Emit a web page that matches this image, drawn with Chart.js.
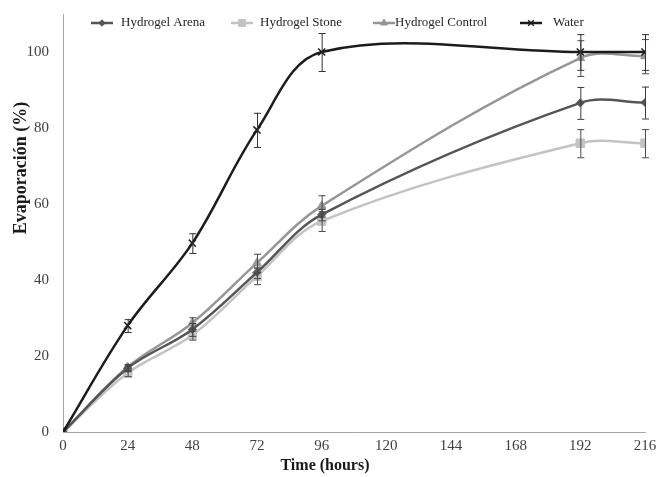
<!DOCTYPE html>
<html lang="es">
<head>
<meta charset="UTF-8">
<title>Evaporación</title>
<style>
    body { margin: 0; background: #fff; }
    #wrap { width: 659px; height: 477px; }
</style>
</head>
<body>
<div id="wrap"><canvas id="evapChart" width="659" height="477"></canvas></div>
<script src="https://cdn.jsdelivr.net/npm/chart.js"></script>
<script>
// datos
const hours = [0, 24, 48, 72, 96, 192, 216];
const seriesNames = ['Hydrogel Arena', 'Hydrogel Stone', 'Hydrogel Control', 'Water'];
const arena = [0, 16.8, 27, 42, 57.2, 86.6, 86.7];
const arenaErr = [0, 0.8, 1.7, 1.5, 1.5, 4.2, 4.2];
const stone = [0, 15.5, 25.5, 41, 55.5, 76, 76];
const stoneErr = [0, 0.8, 1.2, 2.1, 2.6, 3.7, 3.7];
const control = [0, 17.1, 28.7, 44.5, 59.5, 98.4, 98.9];
const controlErr = [0, 0.8, 1.5, 2.4, 2.8, 4.7, 4.5];
const water = [0, 28, 49.7, 79.5, 100, 100, 100];
const waterErr = [0, 1.7, 2.6, 4.5, 5, 4.7, 4.7];
const yTicks = [0, 20, 40, 60, 80, 100];

const serif = "'Liberation Serif', 'Times New Roman', serif";

function toPoints(vals) {
    return hours.map((h, i) => ({ x: h, y: vals[i] }));
}

// barras de error
const errorBars = {
    id: 'errorBars',
    afterDatasetsDraw(chart) {
        const ctx = chart.ctx;
        const xs = chart.scales.x, ys = chart.scales.y;
        ctx.save();
        chart.data.datasets.forEach(ds => {
            ds.errors.forEach((e, i) => {
                if (!e) return;
                const px = xs.getPixelForValue(hours[i]);
                const top = ys.getPixelForValue(ds.data[i].y + e);
                const bot = ys.getPixelForValue(ds.data[i].y - e);
                ctx.strokeStyle = ds.errColor;
                ctx.lineWidth = 1;
                ctx.beginPath();
                ctx.moveTo(px + 0.5, top); ctx.lineTo(px + 0.5, bot);
                ctx.moveTo(px - 3, top + 0.5); ctx.lineTo(px + 4, top + 0.5);
                ctx.moveTo(px - 3, bot + 0.5); ctx.lineTo(px + 4, bot + 0.5);
                ctx.stroke();
            });
        });
        ctx.restore();
    }
};

// leyenda y títulos de ejes
const extras = {
    id: 'extras',
    afterDraw(chart) {
        const ctx = chart.ctx;
        const lineX = [91, 231, 373, 520];
        const textX = [121, 260, 395, 553];
        const ly = 23;
        ctx.save();
        chart.data.datasets.forEach((ds, i) => {
            ctx.strokeStyle = ds.borderColor;
            ctx.fillStyle = ds.borderColor;
            ctx.lineWidth = 2.5;
            ctx.beginPath();
            ctx.moveTo(lineX[i], ly); ctx.lineTo(lineX[i] + 22, ly);
            ctx.stroke();
            ctx.lineWidth = ds.pointBorderWidth;
            Chart.helpers.drawPoint(ctx, {
                pointStyle: ds.pointStyle, radius: ds.pointRadius * 0.8, rotation: 0, borderWidth: ds.pointBorderWidth
            }, lineX[i] + 11, ly);
            ctx.fillStyle = '#262626';
            ctx.font = '13px ' + serif;
            ctx.textBaseline = 'middle';
            ctx.fillText(seriesNames[i], textX[i], ly);
        });
        ctx.fillStyle = '#1a1a1a';
        ctx.font = 'bold 16px ' + serif;
        ctx.textAlign = 'center';
        ctx.textBaseline = 'middle';
        ctx.fillText('Time (hours)', 325, 466);
        ctx.translate(21, 168);
        ctx.rotate(-Math.PI / 2);
        ctx.font = 'bold 18px ' + serif;
        ctx.fillText('Evaporación (%)', 0, 0);
        ctx.restore();
    }
};

function mkSet(i, vals, errs, color, style, radius, order, errColor) {
    return {
        label: seriesNames[i],
        data: toPoints(vals),
        errors: errs,
        errColor: errColor,
        borderColor: color,
        backgroundColor: color,
        pointBackgroundColor: color,
        pointBorderColor: color,
        pointStyle: style,
        pointRadius: radius,
        pointBorderWidth: style === 'crossRot' ? 1.5 : 1,
        borderWidth: 2.5,
        tension: 0.35,
        fill: false,
        order: order
    };
}

const ctx1 = document.getElementById('evapChart').getContext('2d');
const evapChart = new Chart(ctx1, {
    type: 'line',
    data: {
        datasets: [
            mkSet(0, arena, arenaErr, '#555555', 'rectRot', 4, 1, '#3d3d3d'),
            mkSet(1, stone, stoneErr, '#c3c3c3', 'rect', 6, 3, '#4a4a4a'),
            mkSet(2, control, controlErr, '#969696', 'triangle', 5, 2, '#4a4a4a'),
            mkSet(3, water, waterErr, '#1c1c1c', 'crossRot', 5, 0, '#333333')
        ]
    },
    options: {
        responsive: false,
        animation: false,
        layout: { padding: { top: 14, right: 14, left: 0, bottom: 0 } },
        plugins: {
            legend: { display: false },
            tooltip: { enabled: false }
        },
        scales: {
            x: {
                type: 'linear',
                min: 0,
                max: 216,
                grid: { display: false, drawTicks: false },
                border: { display: true, color: '#a6a6a6', width: 1 },
                ticks: {
                    stepSize: 24,
                    padding: 5,
                    color: '#404040',
                    font: { family: serif, size: 15 }
                },
                afterFit(scale) {
                    scale.height = 45;
                    scale.paddingLeft = 0;
                    scale.paddingRight = 0;
                }
            },
            y: {
                min: 0,
                max: 110,
                grid: { display: false, drawTicks: false },
                border: { display: true, color: '#a6a6a6', width: 1 },
                afterBuildTicks(axis) {
                    axis.ticks = yTicks.map(v => ({ value: v }));
                },
                ticks: {
                    padding: 14,
                    color: '#404040',
                    font: { family: serif, size: 15 }
                },
                afterFit(scale) {
                    scale.width = 63;
                    scale.paddingTop = 0;
                    scale.paddingBottom = 0;
                }
            }
        }
    },
    plugins: [errorBars, extras]
});
</script>
</body>
</html>
